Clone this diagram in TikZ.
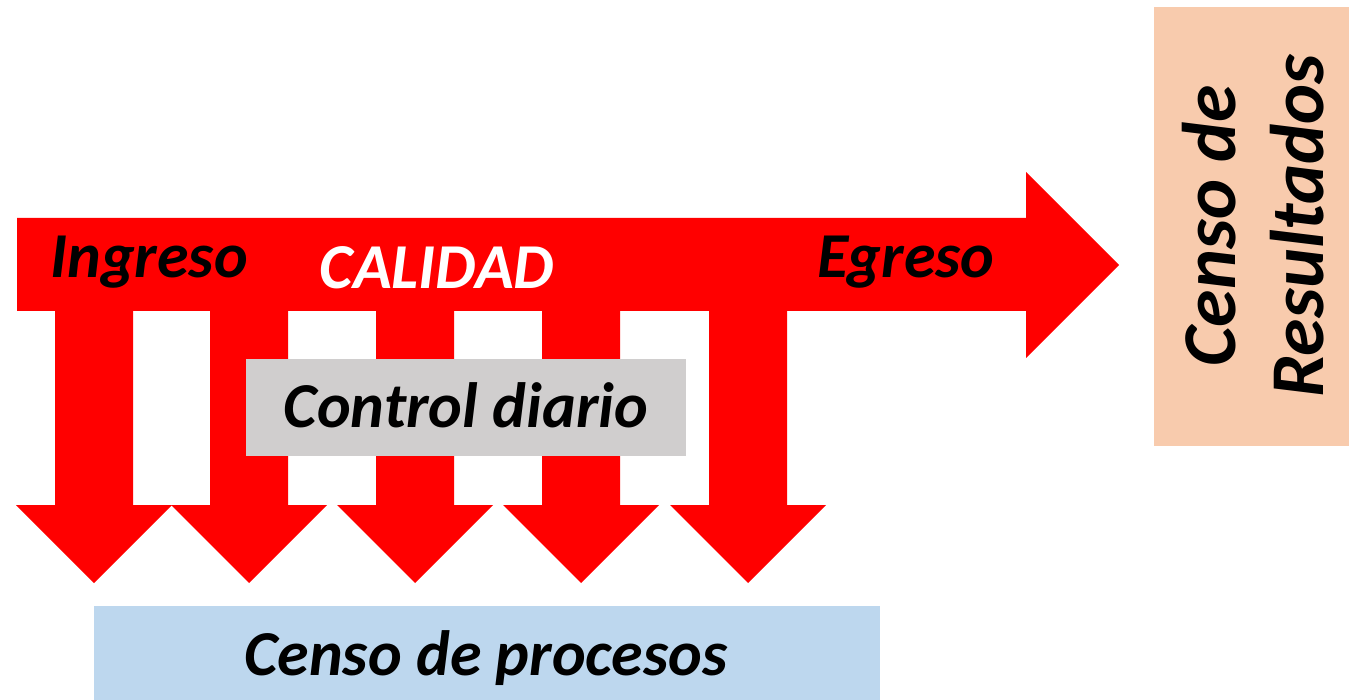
\documentclass[tikz,border=0pt]{standalone}
\usepackage{fontspec}
\setmainfont{Carlito}
\definecolor{arrred}{HTML}{FF0000}
\definecolor{boxgray}{HTML}{D0CECE}
\definecolor{boxblue}{HTML}{BDD7EE}
\definecolor{boxpeach}{HTML}{F8CBAD}
\begin{document}
\begin{tikzpicture}[x=1pt,y=-1pt,
  lbl/.style={inner sep=0pt,anchor=base,font=\fontsize{64}{70}\selectfont\bfseries\itshape},
  vlbl/.style={inner sep=0pt,anchor=base,rotate=90,font=\fontsize{76}{80}\selectfont\bfseries\itshape}]
\useasboundingbox (0,0) rectangle (1349,700);
% main horizontal arrow
\fill[arrred] (17,218) -- (1026,218) -- (1026,172) -- (1119,265) -- (1026,358) -- (1026,311) -- (17,311) -- cycle;
% down arrows
\foreach \c in {94,249,415,581,748}{
  \fill[arrred] (\c-39,305) -- (\c+39,305) -- (\c+39,505) -- (\c+78,505) -- (\c,583) -- (\c-78,505) -- (\c-39,505) -- cycle;
}
% boxes
\fill[boxgray] (246,359) rectangle (686,456);
\fill[boxblue] (94,606) rectangle (880,700);
\fill[boxpeach] (1154,7) rectangle (1349,446);
% labels
\node[lbl] (ing) at (149,278) {Ingreso};
\node[lbl,text=white] (cal) at (437,289) {CALIDAD};
\node[lbl] (egr) at (906,278) {Egreso};
\node[lbl] (ctl) at (466,427) {Control diario};
\node[lbl] (cpr) at (486,675) {Censo de procesos};
\node[vlbl] (cr1) at (1235,226) {Censo de};
\node[vlbl] (cr2) at (1323,226) {Resultados};
\end{tikzpicture}
\end{document}
